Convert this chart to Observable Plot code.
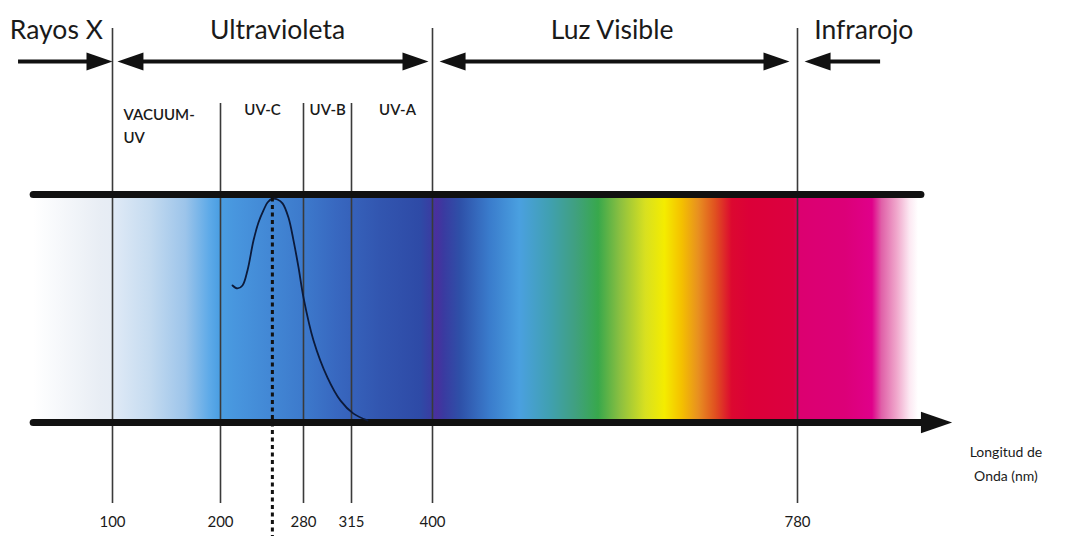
<!DOCTYPE html>
<html>
<head>
<meta charset="utf-8">
<script src="https://cdn.jsdelivr.net/npm/d3@7"></script>
<script src="https://cdn.jsdelivr.net/npm/@observablehq/plot@0.6"></script>
<style>
  html, body { margin: 0; padding: 0; background: #fff; }
</style>
</head>
<body>
<div id="chart"></div>
<script>
// ---------- data ----------
// wavelength (nm) boundaries drawn as vertical lines
const tallBoundaries = [100, 400, 780];
const shortBoundaries = [200, 280, 315];
const tickValues = [100, 200, 280, 315, 400, 780];

// the picture's wavelength axis is not linear: anchor points (nm)
const axisNm = [25, 100, 200, 280, 315, 400, 780, 1100];

// region titles and their arrows
const regionNames = ["Rayos X", "Ultravioleta", "Luz Visible", "Infrarojo"];
const regionCenters = [48, 255, 587, 849];
const arrowLeftNm = [13, 108.3, 411.5, 791.5];
const arrowRightNm = [96.3, 391.6, 767.5, 866.5];
const arrowHeadLeft = [false, true, true, true];
const arrowHeadRight = [true, true, true, false];

// UV sub-bands
const subNames = ["VACUUM-\nUV", "UV-C", "UV-B", "UV-A"];
const subNm = [110.2, 240.5, 297.7, 363.3];

// spectrum band
const bandStartNm = 27;
const bandEndNm = 906;
const axisArrowNm = 936;
const stopNm = [27, 52, 89, 100, 101, 135, 168, 190, 200, 214, 280, 304, 345, 388, 400, 404, 412, 429, 460, 491, 523, 549, 573, 596, 622, 642, 660, 677, 695, 712, 730, 776, 783, 830, 858, 868, 884, 897, 906];
const stopColor = ["#ffffff", "#f6f8fb", "#e8edf4", "#e6ecf4", "#e0eaf6", "#c5dbf0", "#9cc4ea", "#5eaae8", "#4a9ee2", "#4896de", "#3d7acc", "#3868c0", "#3256b0", "#2e4aa6", "#3a3ca2", "#4a2f9e", "#3a3aa0", "#2e50a8", "#3a7ccc", "#4aa0e0", "#40a0b0", "#40a080", "#38a84c", "#8cc040", "#d8e020", "#f4ec00", "#f4c000", "#e89020", "#e05020", "#dc0830", "#dc0038", "#dc0040", "#dc0070", "#dc0078", "#e0008a", "#e060a8", "#f0a8cc", "#fce8f2", "#ffffff"];

// relative absorption curve (nm, relative value)
const curveNm = [211.6, 216.4, 221.2, 226, 231.8, 236.6, 241.4, 245.3, 250.1, 254.9, 259.8, 265.5, 270.4, 275.2, 280, 287.3, 297.5, 307, 317.1, 331.8];
const curveVal = [0.601, 0.588, 0.601, 0.667, 0.798, 0.877, 0.930, 0.965, 0.982, 0.978, 0.961, 0.899, 0.798, 0.680, 0.548, 0.360, 0.197, 0.096, 0.039, 0.009];
const peakNm = 250;

const axisTitle = "Longitud de\nOnda (nm)";
const axisTitleNm = 997;

// ---------- layout ----------
const axisPx = [31, 112, 220, 303, 351, 432, 797, 1104.4];
const yLevel = { title: 1.719, arrow: 1.583, sub: 1.395, tallTop: 1.728, shortTop: 1.399, lineBottom: -0.355, tick: -0.439, axisTitle: -0.17, dotBottom: -0.52 };

const curve = curveNm.map((d, i) => ({ nm: d, v: curveVal[i] }));
const arrows = regionNames.map((name, i) => ({ name, left: arrowLeftNm[i], right: arrowRightNm[i], hl: arrowHeadLeft[i], hr: arrowHeadRight[i] }));
const subs = subNames.map((name, i) => ({ name, nm: subNm[i] }));

function headSymbol(dir) {
  return {
    draw(context, size) {
      const r = Math.sqrt(size / Math.PI);
      context.moveTo(dir * 0.4 * r, 0);
      context.lineTo(-dir * 2.2 * r, -0.9 * r);
      context.lineTo(-dir * 2.2 * r, 0.9 * r);
      context.closePath();
    }
  };
}
const headRight = headSymbol(1);
const headLeft = headSymbol(-1);
const ink = "#111";
const textInk = "#1a1a1a";

const chart = Plot.plot({
  width: 1073,
  height: 536,
  margin: 0,
  x: { type: "linear", domain: axisNm, range: axisPx, axis: null },
  y: { domain: [0, 1], range: [422, 194], axis: null },
  style: { fontFamily: "Lato, 'Open Sans', sans-serif", background: "#fff", color: ink },
  marks: [
    // spectrum band
    Plot.rect([{ a: bandStartNm, b: bandEndNm }], { x1: "a", x2: "b", y1: 0, y2: 1, fill: "url(#spectrum)" }),
    // boundary lines
    Plot.ruleX(tallBoundaries, { y1: yLevel.lineBottom, y2: yLevel.tallTop, stroke: "#3a3a3a", strokeWidth: 1.6 }),
    Plot.ruleX(shortBoundaries, { y1: yLevel.lineBottom, y2: yLevel.shortTop, stroke: "#3a3a3a", strokeWidth: 1.6 }),
    // band edges
    Plot.ruleY([1], { x1: bandStartNm, x2: bandEndNm + 3, stroke: ink, strokeWidth: 7, strokeLinecap: "round" }),
    Plot.ruleY([0], { x1: bandStartNm, x2: axisArrowNm - 8, stroke: ink, strokeWidth: 7, strokeLinecap: "round" }),
    Plot.dot([axisArrowNm], { x: d => d, y: 0, symbol: headRight, r: 12, fill: ink, stroke: "none" }),
    // absorption curve
    Plot.line(curve, { x: "nm", y: "v", curve: "catmull-rom", stroke: "#0c1a3a", strokeWidth: 1.8 }),
    // peak dotted line
    Plot.ruleX([peakNm], { y1: 0.985, y2: yLevel.dotBottom, stroke: ink, strokeWidth: 3, strokeDasharray: "4,3.5" }),
    // region arrows
    ...arrows.map(a => Plot.ruleY([a], { x1: "left", x2: "right", y: yLevel.arrow, stroke: ink, strokeWidth: 4, insetLeft: a.hl ? 14 : 0, insetRight: a.hr ? 14 : 0 })),
    Plot.dot(arrows.filter(a => a.hr), { x: "right", y: yLevel.arrow, symbol: headRight, r: 10, fill: ink, stroke: "none" }),
    Plot.dot(arrows.filter(a => a.hl), { x: "left", y: yLevel.arrow, symbol: headLeft, r: 10, fill: ink, stroke: "none" }),
    // region titles
    Plot.text(regionNames, { x: (d, i) => regionCenters[i], y: yLevel.title, text: d => d, fontSize: 26.5, fill: textInk }),
    // sub-band labels
    Plot.text(subs.slice(0, 1), { x: "nm", y: yLevel.sub, text: "name", textAnchor: "start", lineAnchor: "top", fontSize: 15, lineHeight: 1.5, fontWeight: 600, fill: textInk }),
    Plot.text(subs.slice(1), { x: "nm", y: yLevel.sub, text: "name", lineAnchor: "top", fontSize: 15, fontWeight: 600, fill: textInk }),
    // tick labels
    Plot.text(tickValues, { x: d => d, y: yLevel.tick, text: d => String(d), fontSize: 15, fill: textInk }),
    // axis title
    Plot.text([axisTitle], { x: axisTitleNm, y: yLevel.axisTitle, text: d => d, fontSize: 14, lineHeight: 1.75, fill: textInk })
  ]
});

// gradient definition for the spectrum band
const xs = d3.scaleLinear().domain(axisNm).range(axisPx);
const x0 = xs(bandStartNm), x1 = xs(bandEndNm);
const grad = d3.select(chart).insert("defs", ":first-child")
  .append("linearGradient").attr("id", "spectrum")
  .attr("x1", "0").attr("x2", "1").attr("y1", "0").attr("y2", "0");
stopNm.forEach((nm, i) => {
  grad.append("stop").attr("offset", ((xs(nm) - x0) / (x1 - x0)).toFixed(4)).attr("stop-color", stopColor[i]);
});

document.getElementById("chart").appendChild(chart);
</script>
</body>
</html>
